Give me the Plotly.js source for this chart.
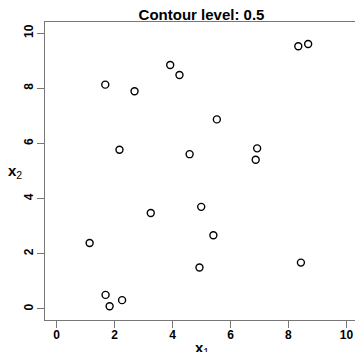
<!DOCTYPE html>
<html>
<head>
<meta charset="utf-8">
<script src="https://cdn.plot.ly/plotly-3.0.1.min.js"></script>
<style>
html, body { margin: 0; padding: 0; overflow: hidden; background: #fff; }
#chart { width: 370px; height: 352px; }
</style>
</head>
<body>
<div id="chart"></div>
<script>
const x1 = [1.68, 2.69, 3.92, 4.24, 8.34, 8.68, 5.53, 2.17, 4.59, 6.92, 6.87, 3.25, 4.99, 5.41, 1.14, 4.93, 8.43, 1.69, 2.26, 1.83];
const x2 = [8.13, 7.89, 8.84, 8.48, 9.52, 9.60, 6.87, 5.77, 5.61, 5.82, 5.41, 3.48, 3.70, 2.67, 2.39, 1.50, 1.68, 0.51, 0.32, 0.10];
const tickValues = [0, 2, 4, 6, 8, 10];
const tickLabels = ['0', '2', '4', '6', '8', '10'];
const titleText = 'Contour level: 0.5';

const font = 'Liberation Sans, Arial, sans-serif';
const axisCommon = {
  tickmode: 'array',
  tickvals: tickValues,
  ticktext: tickLabels,
  ticks: 'outside',
  ticklen: 7,
  tickwidth: 1,
  tickcolor: '#777',
  showline: true,
  linecolor: '#777',
  linewidth: 1,
  mirror: true,
  showgrid: false,
  zeroline: false,
  tickfont: { family: font, size: 12, color: '#000', weight: 'bold' },
  range: [-0.4, 10.4]
};

const data = [{
  type: 'scatter',
  mode: 'markers',
  x: x1,
  y: x2,
  marker: { symbol: 'circle-open', size: 7, color: '#000', line: { width: 1.4, color: '#000' } },
  hoverinfo: 'skip',
  cliponaxis: false
}];

const layout = {
  width: 370,
  height: 352,
  margin: { l: 45, r: 12, t: 22, b: 32 },
  paper_bgcolor: '#fff',
  plot_bgcolor: '#fff',
  showlegend: false,
  title: {
    text: '<b>' + titleText + '</b>',
    font: { family: font, size: 15, color: '#000' },
    x: 0.5, xref: 'paper', xanchor: 'center',
    y: 1 - 14.5 / 352, yref: 'container', yanchor: 'middle'
  },
  xaxis: Object.assign({}, axisCommon, { ticklabelstandoff: -3 }),
  yaxis: Object.assign({}, axisCommon, { tickangle: -90, ticklabelstandoff: -1 }),
  annotations: [
    { text: '<b>x</b><sub>1</sub>', xref: 'paper', yref: 'paper', x: 0.5, y: -0.094,
      xanchor: 'center', yanchor: 'middle', showarrow: false,
      font: { family: font, size: 15, color: '#000' } },
    { text: '<b>x</b><sub>2</sub>', xref: 'paper', yref: 'paper', x: -0.096, y: 0.498,
      xanchor: 'center', yanchor: 'middle', showarrow: false,
      font: { family: font, size: 15, color: '#000' } }
  ]
};

Plotly.newPlot('chart', data, layout, { staticPlot: true, displayModeBar: false });
</script>
</body>
</html>
